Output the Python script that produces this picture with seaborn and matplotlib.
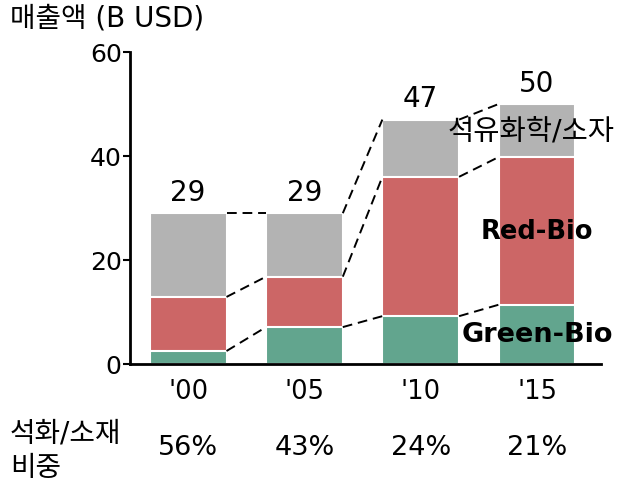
import matplotlib
matplotlib.use("Agg")
import matplotlib.pyplot as plt
import seaborn as sns
import pandas as pd

# Revenue by segment (billion USD)
years = ["'00", "'05", "'10", "'15"]
totals = [29, 29, 47, 50]
green_bio = [2.5, 7.1, 9.2, 11.4]
red_bio = [10.4, 9.7, 26.8, 28.4]
petro_share = ["56%", "43%", "24%", "21%"]

petro = [t - g - r for t, g, r in zip(totals, green_bio, red_bio)]
green_top = list(green_bio)
red_top = [g + r for g, r in zip(green_bio, red_bio)]
gray_top = [rt + p for rt, p in zip(red_top, petro)]

sns.set_theme(style="white")
plt.rcParams["font.family"] = ["DejaVu Sans", "Noto Sans CJK KR"]
plt.rcParams["text.color"] = "black"
plt.rcParams["xtick.color"] = "black"
plt.rcParams["ytick.color"] = "black"

C_GREEN = "#62a58e"
C_RED = "#cc6666"
C_GRAY = "#b3b3b3"
BAR_W = 0.66

fig = plt.figure(figsize=(6.21, 4.86), dpi=100)
ax = fig.add_axes([130 / 621, 1 - 364 / 486, 471 / 621, 312 / 486])

df = pd.DataFrame({"year": years, "gray": gray_top, "red": red_top, "green": green_top})
for col, color in [("gray", C_GRAY), ("red", C_RED), ("green", C_GREEN)]:
    sns.barplot(data=df, x="year", y=col, color=color, width=BAR_W,
                edgecolor="white", linewidth=1.5, saturation=1, ax=ax)

# dashed connectors between stacked boundaries of neighbouring bars
for levels in (green_top, red_top, gray_top):
    for i in range(len(years) - 1):
        ax.plot([i + BAR_W / 2, i + 1 - BAR_W / 2], [levels[i], levels[i + 1]],
                color="black", linestyle=(0, (5, 3)), linewidth=1.4)

for i, t in enumerate(totals):
    ax.text(i, t + 2.4, f"{t}", ha="center", va="baseline", fontsize=20)

ax.set_xlim(-0.5, 3.55)
ax.set_ylim(0, 60)
ax.set_yticks([0, 20, 40, 60])
ax.set_xlabel("")
ax.set_ylabel("")
sns.despine(ax=ax, top=True, right=True)
for s in ("left", "bottom"):
    ax.spines[s].set_color("black")
    ax.spines[s].set_linewidth(2)
ax.tick_params(axis="y", which="both", left=True, length=5, width=1.5,
               labelsize=18, pad=1)
ax.tick_params(axis="x", bottom=False, length=0, labelsize=18.5, pad=11)

# segment names
fig.text(448 / 621, 1 - 132 / 486, "석유화학/소자", fontsize=20.5, ha="left", va="center")
fig.text(537 / 621, 1 - 232 / 486, "Red-Bio", fontsize=18.5, fontweight="bold",
         ha="center", va="center")
fig.text(537 / 621, 1 - 335 / 486, "Green-Bio", fontsize=19.5, fontweight="bold",
         ha="center", va="center")

# axis title
fig.text(10 / 621, 1 - 19 / 486, "매출액 (B USD)", fontsize=20, ha="left", va="center")

# petrochemical share row
fig.text(10 / 621, 1 - 433 / 486, "석화/소재", fontsize=20, ha="left", va="center")
fig.text(10 / 621, 1 - 468 / 486, "비중", fontsize=20, ha="left", va="center")
for i, s in enumerate(petro_share):
    xd = ax.transData.transform((i, 0))[0]
    xf = fig.transFigure.inverted().transform((xd, 0))[0]
    fig.text(xf, 1 - 448 / 486, s, fontsize=19.5, ha="center", va="center")

fig.savefig("out.png", dpi=100)
